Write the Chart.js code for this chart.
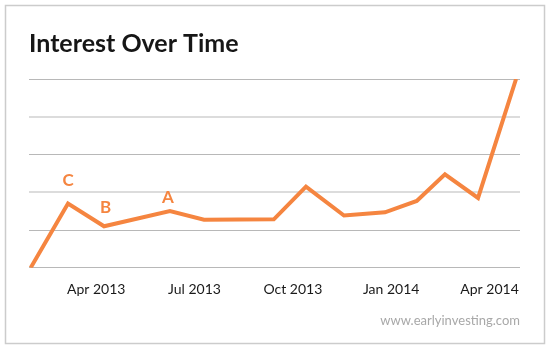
<!DOCTYPE html>
<html>
<head>
<meta charset="utf-8">
<title>Interest Over Time</title>
<script src="https://cdn.jsdelivr.net/npm/chart.js@4"></script>
<style>
  html, body { margin: 0; padding: 0; background: #ffffff; }
  canvas { display: block; }
</style>
</head>
<body>
<canvas id="chart" width="550" height="350"></canvas>
<script>
// Position of each sample, in months counted from Jan 2013 (0 = Jan 2013)
const monthPositions = [1.00, 2.14, 3.24, 5.25, 6.29, 8.42, 9.40, 10.56, 11.81, 12.78, 13.64, 14.65, 15.81];
// Relative search interest (0-100)
const interestValues = [0, 34, 22, 30, 25.5, 25.7, 43, 27.7, 29.4, 35.4, 49.5, 37, 100];
// Labelled ticks on the time axis
const tickMonths = [3, 6, 9, 12, 15];
const tickLabels = ['Apr 2013', 'Jul 2013', 'Oct 2013', 'Jan 2014', 'Apr 2014'];
// Event markers placed above chosen samples
const markerLetters = ['C', 'B', 'A'];
const markerIndices = [1, 2, 3];

const ORANGE = '#f58540';

const points = monthPositions.map((m, i) => ({ x: m, y: interestValues[i] }));

// White card with a thin grey frame behind everything
const framePlugin = {
  id: 'frame',
  beforeDraw(chart) {
    const ctx = chart.ctx;
    ctx.save();
    ctx.fillStyle = '#ffffff';
    ctx.fillRect(0, 0, chart.width, chart.height);
    ctx.strokeStyle = '#cccccc';
    ctx.lineWidth = 1.5;
    ctx.strokeRect(5.5, 5.5, 539, 338);
    ctx.restore();
  }
};

// Letter markers above the line
const markerPlugin = {
  id: 'markers',
  afterDatasetsDraw(chart) {
    const ctx = chart.ctx;
    const meta = chart.getDatasetMeta(0);
    const lift = { C: 23, B: 19, A: 14 };
    const shiftX = { C: 0, B: 1.5, A: -2 };
    ctx.save();
    ctx.fillStyle = ORANGE;
    ctx.font = 'bold 17px Lato';
    ctx.textAlign = 'center';
    ctx.textBaseline = 'middle';
    markerLetters.forEach((letter, k) => {
      const pt = meta.data[markerIndices[k]];
      ctx.fillText(letter, pt.x + shiftX[letter], pt.y - lift[letter]);
    });
    ctx.restore();
  }
};

new Chart(document.getElementById('chart'), {
  type: 'line',
  data: {
    datasets: [{
      data: points,
      borderColor: ORANGE,
      borderWidth: 4,
      pointRadius: 0,
      tension: 0,
      fill: false
    }]
  },
  options: {
    responsive: false,
    animation: false,
    devicePixelRatio: 1,
    layout: { padding: { left: 29, right: 30, top: 0, bottom: 23 } },
    plugins: {
      legend: { display: false },
      tooltip: { enabled: false },
      title: {
        display: true,
        text: 'Interest Over Time',
        align: 'start',
        color: '#161616',
        font: { family: 'Lato', size: 25, weight: 'bold', lineHeight: 1 },
        padding: { top: 31, bottom: 23 }
      },
      subtitle: {
        display: true,
        position: 'bottom',
        align: 'end',
        text: 'www.earlyinvesting.com',
        color: '#a8a8a8',
        font: { family: 'Lato', size: 13, lineHeight: 1 },
        padding: { top: 2, bottom: 0 }
      }
    },
    scales: {
      x: {
        type: 'linear',
        min: 0.95,
        max: 15.93,
        grid: { display: false, drawTicks: false },
        border: { display: false },
        afterBuildTicks(scale) {
          scale.ticks = tickMonths.map(v => ({ value: v }));
        },
        ticks: {
          autoSkip: false,
          maxRotation: 0,
          padding: 13.7,
          color: '#1a1a1a',
          font: { family: 'Lato', size: 14 },
          callback(value) {
            const i = tickMonths.indexOf(value);
            return i >= 0 ? tickLabels[i] : '';
          }
        }
      },
      y: {
        min: 0,
        max: 100,
        ticks: { display: false, stepSize: 20 },
        border: { display: false },
        grid: {
          drawTicks: false,
          color: ctx => (ctx.tick && (ctx.tick.value === 40 || ctx.tick.value === 80)) ? '#dcdcdc' : '#b8b8b8',
          lineWidth: ctx => (ctx.tick && (ctx.tick.value === 40 || ctx.tick.value === 80)) ? 2 : 1
        }
      }
    }
  },
  plugins: [framePlugin, markerPlugin]
});
</script>
</body>
</html>
